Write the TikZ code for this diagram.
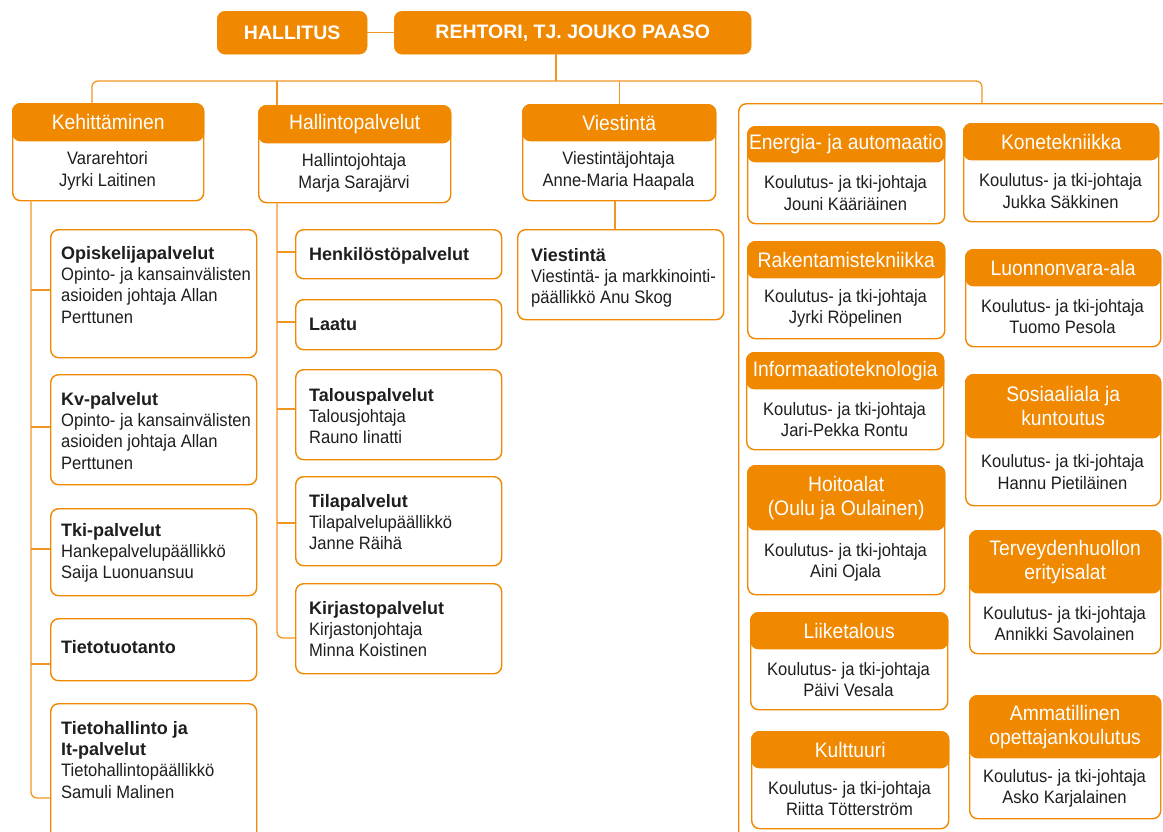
\documentclass[tikz,border=0pt]{standalone}
\usepackage{fontspec}
\setmainfont{Liberation Sans}[FakeStretch=0.92]
\newfontfamily\bfam{Liberation Sans}[FakeStretch=1.0]
\usetikzlibrary{calc}
\definecolor{oamk}{RGB}{240,136,0}
\definecolor{ink}{RGB}{30,30,30}
\definecolor{connc}{RGB}{242,150,35}
\newcommand\ttl[1]{{\bfam\bfseries #1}}
\tikzset{
  topbox/.style={fill=oamk, draw=oamk, rounded corners=8pt, text=white,
    font=\bfam\bfseries\fontsize{19.5}{22}\selectfont, anchor=north west, inner sep=0pt},
  outer/.style={draw=oamk, line width=1.4pt, fill=white, rounded corners=8pt,
    anchor=north west, inner sep=0pt},
  head/.style={fill=oamk, draw=oamk, line width=1.4pt, rounded corners=8pt,
    anchor=north west, inner sep=0pt, text=white,
    font=\fontsize{21}{24}\selectfont, align=center},
  body/.style={text=ink, font=\fontsize{18}{21.5}\selectfont, align=center, inner sep=0pt},
  item/.style={text=ink, font=\fontsize{18}{21.3}\selectfont, align=left,
    inner sep=0pt, anchor=north west},
  conn/.style={draw=connc, line width=1.3pt},
}
\newcommand\unitbox[8]{%
  \node[outer, minimum width={#4pt-#2pt}, minimum height={#5pt-#3pt}] (#1) at (#2,#3) {};
  \node[head, minimum width={#4pt-#2pt}, minimum height={#6pt-#3pt}] (#1h) at (#2,#3) {#7};
  \node[body] (#1t) at ({(#2+#4)/2},{(#6+#5)/2+1}) {#8};
}
\begin{document}
\begin{tikzpicture}[x=1pt,y=-1pt]
\useasboundingbox (0,0) rectangle (1163,831);
\clip (0,0) rectangle (1163,831);

% top
\node[topbox, minimum width=150pt, minimum height=43pt] (hal) at (217,11) {HALLITUS};
\node[topbox, minimum width=357pt, minimum height=43pt] (reh) at (394,11) {REHTORI, TJ. JOUKO PAASO};

% big unit frame
\node[outer, minimum width=600pt, minimum height=800pt] (tulos) at (738,103) {};

% main units
\unitbox{keh}{12}{103}{203}{200}{140}{Kehittäminen}{Vararehtori\\Jyrki Laitinen}
\unitbox{hall}{258}{105}{450}{202}{142}{Hallintopalvelut}{Hallintojohtaja\\Marja Sarajärvi}
\unitbox{vies}{522}{104}{715}{200}{140}{Viestintä}{Viestintäjohtaja\\Anne-Maria Haapala}

% degree units, left column
\unitbox{ener}{747}{126}{944}{223}{161}{Energia- ja automaatio}{Koulutus- ja tki-johtaja\\Jouni Kääriäinen}
\unitbox{rak}{747}{241}{944}{338}{277}{Rakentamistekniikka}{Koulutus- ja tki-johtaja\\Jyrki Röpelinen}
\unitbox{info}{746}{352}{943}{449}{388}{Informaatioteknologia}{Koulutus- ja tki-johtaja\\Jari-Pekka Rontu}
\unitbox{hoito}{747}{465}{944}{594}{529}{Hoitoalat\\(Oulu ja Oulainen)}{Koulutus- ja tki-johtaja\\Aini Ojala}
\unitbox{liike}{750}{612}{947}{709}{648}{Liiketalous}{Koulutus- ja tki-johtaja\\Päivi Vesala}
\unitbox{kult}{751}{731}{948}{828}{767}{Kulttuuri}{Koulutus- ja tki-johtaja\\Riitta Tötterström}

% degree units, right column
\unitbox{kone}{963}{123}{1158}{221}{159}{Konetekniikka}{Koulutus- ja tki-johtaja\\Jukka Säkkinen}
\unitbox{luon}{965}{249}{1160}{346}{285}{Luonnonvara-ala}{Koulutus- ja tki-johtaja\\Tuomo Pesola}
\unitbox{sos}{965}{374}{1160}{505}{437}{Sosiaaliala ja\\kuntoutus}{Koulutus- ja tki-johtaja\\Hannu Pietiläinen}
\unitbox{terv}{969}{530}{1160}{653}{592}{Terveydenhuollon\\erityisalat}{Koulutus- ja tki-johtaja\\Annikki Savolainen}
\unitbox{amm}{969}{695}{1160}{818}{757}{Ammatillinen\\opettajankoulutus}{Koulutus- ja tki-johtaja\\Asko Karjalainen}

% Kehittäminen items
\node[outer, minimum width=206pt, minimum height=128pt] (opis) at (50,229) {};
\node[item] (opist) at (61,246) {\ttl{Opiskelijapalvelut}\\Opinto- ja kansainvälisten\\asioiden johtaja Allan\\Perttunen};
\node[outer, minimum width=206pt, minimum height=110pt] (kv) at (50,374) {};
\node[item] (kvt) at (61,392) {\ttl{Kv-palvelut}\\Opinto- ja kansainvälisten\\asioiden johtaja Allan\\Perttunen};
\node[outer, minimum width=206pt, minimum height=87pt] (tki) at (50,508) {};
\node[item] (tkit) at (61,523) {\ttl{Tki-palvelut}\\Hankepalvelupäällikkö\\Saija Luonuansuu};
\node[outer, minimum width=206pt, minimum height=62pt] (tieto) at (50,618) {};
\node[item] (tietot) at (61,640) {\ttl{Tietotuotanto}};
\node[outer, minimum width=206pt, minimum height=200pt] (tietoh) at (50,703) {};
\node[item] (tietoht) at (61,721) {\ttl{Tietohallinto ja}\\\ttl{It-palvelut}\\Tietohallintopäällikkö\\Samuli Malinen};

% Hallintopalvelut items
\node[outer, minimum width=206pt, minimum height=49pt] (henk) at (295,229) {};
\node[item] (henkt) at (309,247) {\ttl{Henkilöstöpalvelut}};
\node[outer, minimum width=206pt, minimum height=50pt] (laatu) at (295,299) {};
\node[item] (laatut) at (309,318) {\ttl{Laatu}};
\node[outer, minimum width=206pt, minimum height=90pt] (talous) at (295,369) {};
\node[item] (taloust) at (309,388) {\ttl{Talouspalvelut}\\Talousjohtaja\\Rauno Iinatti};
\node[outer, minimum width=206pt, minimum height=89pt] (tila) at (295,476) {};
\node[item] (tilat) at (309,494) {\ttl{Tilapalvelut}\\Tilapalvelupäällikkö\\Janne Räihä};
\node[outer, minimum width=206pt, minimum height=90pt] (kirj) at (295,583) {};
\node[item] (kirjt) at (309,601) {\ttl{Kirjastopalvelut}\\Kirjastonjohtaja\\Minna Koistinen};

% Viestintä item
\node[outer, minimum width=206pt, minimum height=90pt] (viess) at (517,229) {};
\node[item] (viesst) at (531,248) {\ttl{Viestintä}\\Viestintä- ja markkinointi-\\päällikkö Anu Skog};

% connectors
\draw[conn] (hal.east) -- (reh.west);
\draw[conn] ($(reh.south west)+(162,0)$) -- ++(0,27);
\draw[conn, rounded corners=6pt] ($(keh.north west)+(80,0)$) |- ($(tulos.north west)+(244,-22)$) -- ($(tulos.north west)+(244,0)$);
\draw[conn] ($(hall.north west)+(19,0)$) -- ++(0,-24);
\draw[conn] (vies.north) -- ++(0,-23);
\draw[conn] ($(vies.south west)+(93,0)$) -- ($(viess.north west)+(98,0)$);

\draw[conn, rounded corners=6pt] ($(keh.south west)+(19,0)$) |- ($(tietoh.north west)+(0,95)$);
\draw[conn] ($(opis.north west)+(0,61)$) -- ++(-19,0);
\draw[conn] ($(kv.north west)+(0,53)$) -- ++(-19,0);
\draw[conn] ($(tki.north west)+(0,41)$) -- ++(-19,0);
\draw[conn] ($(tieto.north west)+(0,46)$) -- ++(-19,0);

\draw[conn, rounded corners=6pt] ($(hall.south west)+(19,0)$) |- ($(kirj.north west)+(0,55)$);
\draw[conn] ($(henk.north west)+(0,23)$) -- ++(-18,0);
\draw[conn] ($(laatu.north west)+(0,23)$) -- ++(-18,0);
\draw[conn] ($(talous.north west)+(0,40)$) -- ++(-18,0);
\draw[conn] ($(tila.north west)+(0,47)$) -- ++(-18,0);
\end{tikzpicture}
\end{document}
